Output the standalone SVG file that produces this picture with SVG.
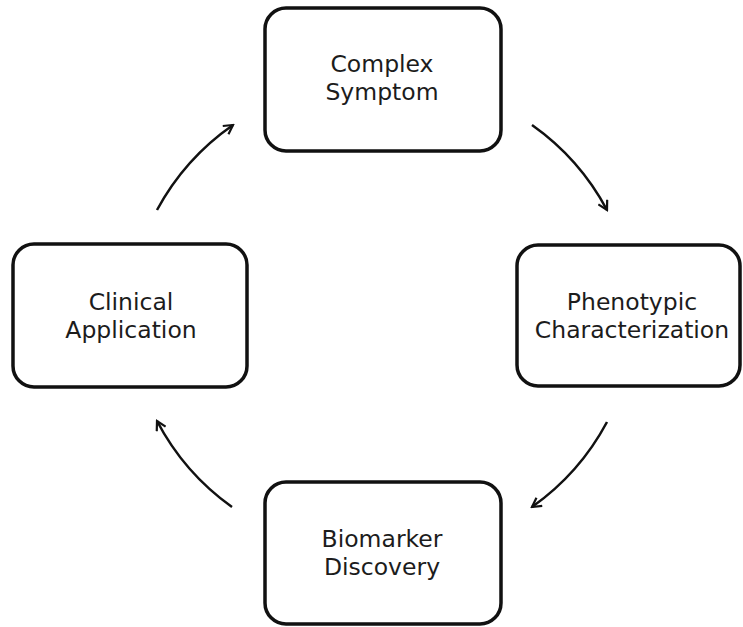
<svg xmlns="http://www.w3.org/2000/svg" width="743" height="627" viewBox="0 0 743 627">
<defs>
<style>
.box{fill:#fff;stroke:#111;stroke-width:3.5}
.lbl{font-family:"DejaVu Sans","Open Sans",sans-serif;font-size:23.5px;fill:#1c1c1c;text-anchor:middle}
.arc{fill:none;stroke:#111;stroke-width:2.5}
</style>
<marker id="ah" viewBox="0 0 12 12" refX="10" refY="6" markerWidth="12" markerHeight="12" markerUnits="userSpaceOnUse" orient="auto">
<path d="M1,1 L10,6 L1,11" fill="none" stroke="#111" stroke-width="2.2"/>
</marker>
</defs>
<rect width="743" height="627" fill="#fff"/>
<g id="connectors">
<path class="arc" d="M157,210 A246,246 0 0 1 233,125" marker-end="url(#ah)"/>
<path class="arc" d="M532,125 A246,246 0 0 1 607,210" marker-end="url(#ah)"/>
<path class="arc" d="M607,422 A246,246 0 0 1 532,507" marker-end="url(#ah)"/>
<path class="arc" d="M232,507 A246,246 0 0 1 157,421" marker-end="url(#ah)"/>
</g>
<g id="complex-symptom">
<rect class="box" x="265" y="8" width="236" height="143" rx="21"/>
<text class="lbl" x="382" y="72">Complex</text>
<text class="lbl" x="382" y="100">Symptom</text>
</g>
<g id="phenotypic-characterization">
<rect class="box" x="517" y="245" width="223" height="141" rx="21"/>
<text class="lbl" x="632" y="310">Phenotypic</text>
<text class="lbl" x="632" y="338">Characterization</text>
</g>
<g id="biomarker-discovery">
<rect class="box" x="265" y="482" width="236" height="142" rx="21"/>
<text class="lbl" x="382" y="547">Biomarker</text>
<text class="lbl" x="382" y="575">Discovery</text>
</g>
<g id="clinical-application">
<rect class="box" x="13" y="244" width="234" height="143" rx="21"/>
<text class="lbl" x="131" y="310">Clinical</text>
<text class="lbl" x="131" y="338">Application</text>
</g>
</svg>
